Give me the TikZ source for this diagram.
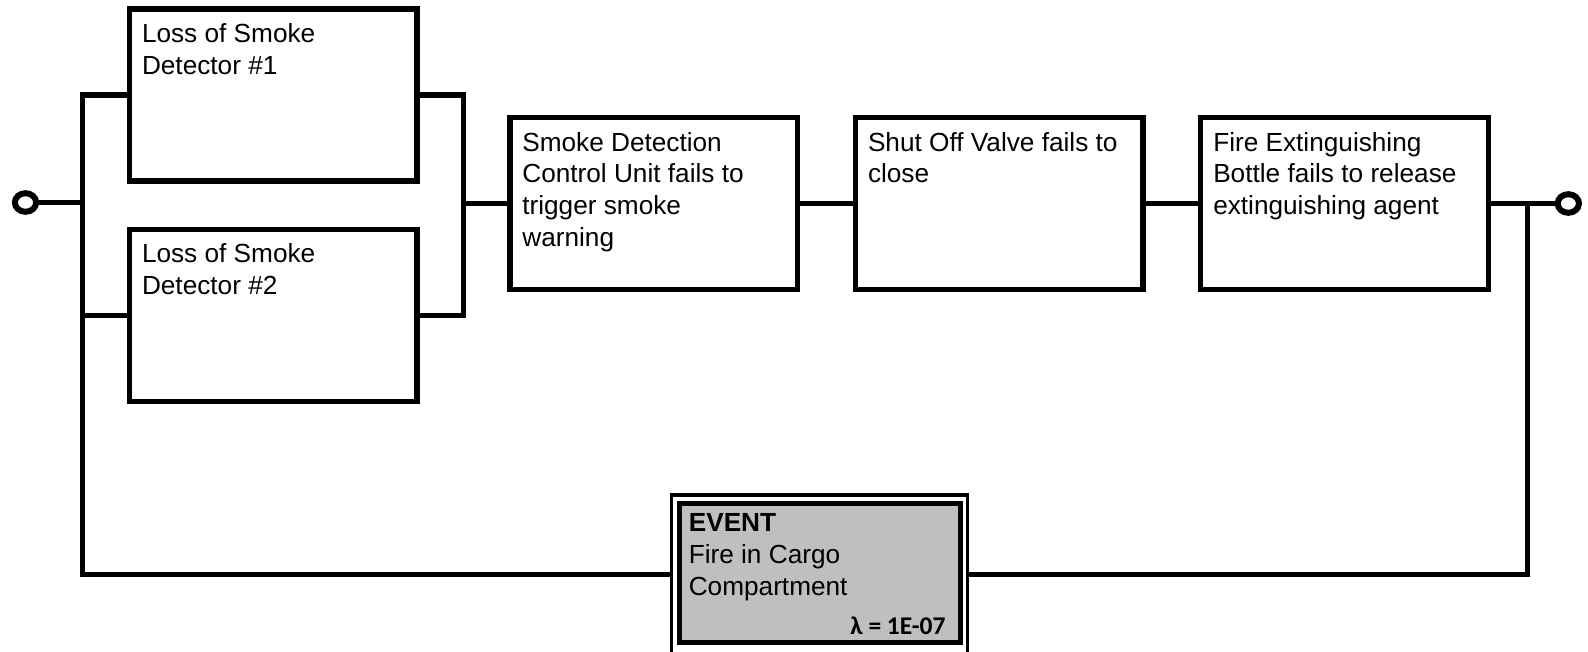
\documentclass[tikz,border=0pt]{standalone}
\usepackage{fontspec}
\setmainfont{Liberation Sans}
\newfontfamily\calfont{Carlito}
\usetikzlibrary{calc,shapes.geometric}
\definecolor{evgray}{RGB}{191,191,191}
\tikzset{
  blk/.style={draw, line width=5.4pt, minimum width=287.5pt, minimum height=172pt, inner sep=0pt, outer sep=0pt},
  wire/.style={line width=5.4pt, line join=miter},
  lbl/.style={anchor=north west, inner sep=0pt, outer sep=0pt, align=left, font=\fontsize{26.2}{31.7}\selectfont},
  term/.style={draw, ellipse, line width=6pt, minimum width=21.3pt, minimum height=18.6pt, inner sep=0pt, outer sep=0pt, fill=white},
  evout/.style={draw, line width=3.5pt, fill=white, minimum width=295.8pt, minimum height=159pt, inner sep=0pt, outer sep=0pt},
  evin/.style={draw, line width=5.2pt, fill=evgray, minimum width=281.3pt, minimum height=139.3pt, inner sep=0pt, outer sep=0pt}
}
\begin{document}
\begin{tikzpicture}[x=1pt,y=-1pt]
\fill[white] (0,0) rectangle (1588,651);
\useasboundingbox (0,0) rectangle (1588,651);

% blocks
\node[blk] (b1) at (273.25,94.85) {};
\node[blk] (b2) at (273.25,315.25) {};
\node[blk] (sd) at (653.6,203.5) {};
\node[blk] (sv) at (999.25,203.5) {};
\node[blk] (fe) at (1344.5,203.5) {};

% event
\node[evout] (ev) at (819.6,574.5) {};
\node[evin] (evi) at (819.85,572.85) {};

% bus coordinates
\coordinate (lb) at (82.5,574.5);
\coordinate (rb) at (463.5,315.25);
\coordinate (rm) at (463.5,203.5);
\coordinate (rr) at (1527.5,203.5);

% wires
\draw[wire] (b1.west) -| (lb) -- (ev.west);
\draw[wire] (b2.west) -- (b2.west -| lb);
\draw[wire] (b1.east) -| (rb) -- (b2.east);
\draw[wire] (rm) -- (sd.west);
\draw[wire] (sd.east) -- (sv.west);
\draw[wire] (sv.east) -- (fe.west);
\draw[wire] (ev.east) -| (rr);

% terminals
\node[term] (tl) at (25.5,202.5) {};
\node[term] (tr) at (1568.3,203.5) {};
\draw[wire] (tl.east) -- (tl.east -| lb);
\draw[wire] (fe.east) -- (tr.west);

% labels
\node[lbl] (t1) at ($(b1.north west)+(12.5,11.5)$) {\strut Loss of Smoke\\Detector \#1};
\node[lbl] (t2) at ($(b2.north west)+(12.5,11.5)$) {\strut Loss of Smoke\\Detector \#2};
\node[lbl] (t3) at ($(sd.north west)+(12.5,11.5)$) {\strut Smoke Detection\\Control Unit fails to\\trigger smoke\\warning};
\node[lbl] (t4) at ($(sv.north west)+(12.5,11.5)$) {\strut Shut Off Valve fails to\\close};
\node[lbl] (t5) at ($(fe.north west)+(12.5,11.5)$) {\strut Fire Extinguishing\\Bottle fails to release\\extinguishing agent};
\node[lbl] (t6) at ($(evi.north west)+(9.6,6.3)$) {\strut\textbf{EVENT}\\Fire in Cargo\\Compartment};
\node[anchor=base east, inner sep=0pt, outer sep=0pt, font=\calfont\bfseries\fontsize{25.5}{30}\selectfont] (lam) at (945.5,634) {λ = 1E-07};
\end{tikzpicture}
\end{document}
